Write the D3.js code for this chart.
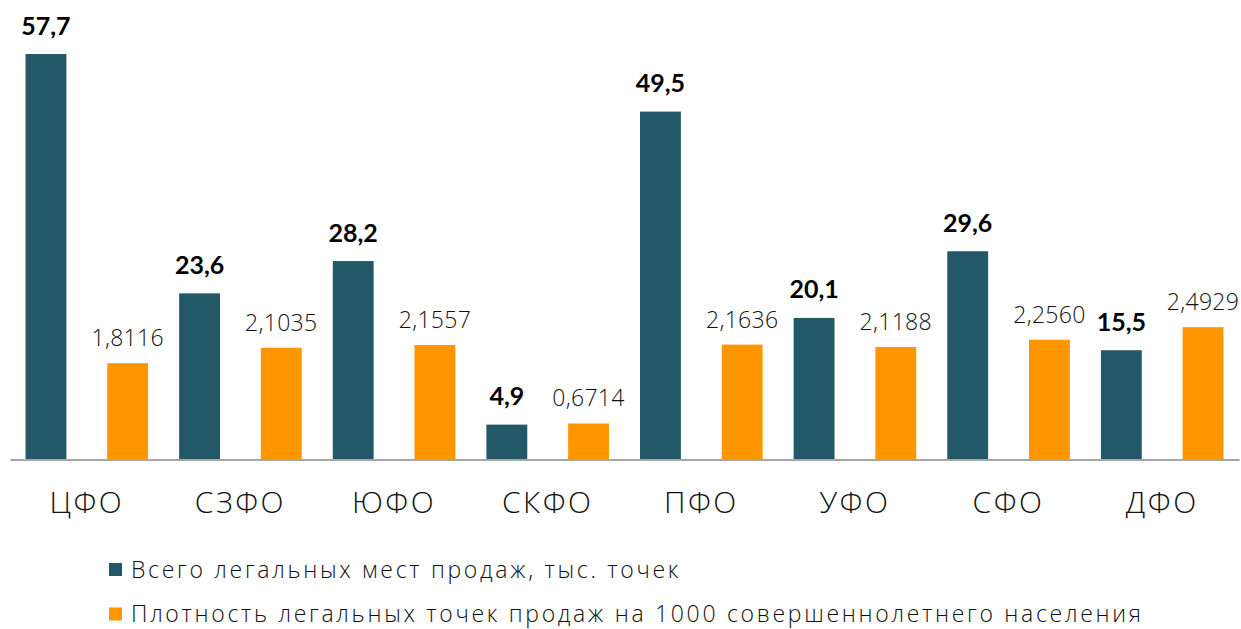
<!DOCTYPE html>
<html>
<head>
<meta charset="utf-8">
<script src="https://cdn.jsdelivr.net/npm/d3@7"></script>
<style>
	body { margin: 0; background: #fff; }
	svg { display: block; }
	.cat-label { font-family: "Open Sans", sans-serif; font-weight: 300; font-size: 30px; fill: #111; letter-spacing: 2.5px; }
	.total-label { font-family: Lato, sans-serif; font-weight: 700; font-size: 25px; fill: #000; }
	.density-label { font-family: "Open Sans", sans-serif; font-weight: 300; font-size: 23px; fill: #111; letter-spacing: 0.3px; }
	.legend-text { font-family: "Open Sans", sans-serif; font-weight: 300; font-size: 23px; fill: #111; letter-spacing: 2.7px; }
</style>
</head>
<body>
<div id="graphic"></div>
<script>
// chart data
const districts = ['ЦФО', 'СЗФО', 'ЮФО', 'СКФО', 'ПФО', 'УФО', 'СФО', 'ДФО'];
const totalPoints = [57.7, 23.6, 28.2, 4.9, 49.5, 20.1, 29.6, 15.5];
const densityPoints = [1.8116, 2.1035, 2.1557, 0.6714, 2.1636, 2.1188, 2.2560, 2.4929];
const totalLabels = ['57,7', '23,6', '28,2', '4,9', '49,5', '20,1', '29,6', '15,5'];
const densityLabels = ['1,8116', '2,1035', '2,1557', '0,6714', '2,1636', '2,1188', '2,2560', '2,4929'];
const seriesNames = [
	'Всего легальных мест продаж, тыс. точек',
	'Плотность легальных точек продаж на 1000 совершеннолетнего населения'
];

const colours = ['#225867', '#ff9600'];

const width = 1241;
const height = 629;
const margin = { left: 10, right: 2 };
const baseline = 459;

const graphic_data = districts.map((d, i) => ({
	district: d,
	total: totalPoints[i],
	density: densityPoints[i],
	totalLabel: totalLabels[i],
	densityLabel: densityLabels[i]
}));

const svg = d3.select('#graphic')
	.append('svg')
	.attr('width', width)
	.attr('height', height);

// scales
const x = d3.scaleBand()
	.domain(districts)
	.range([margin.left, width - margin.right]);

const xSub = d3.scaleBand()
	.domain(['total', 'density'])
	.range([0, x.bandwidth()])
	.paddingInner(0.5)
	.paddingOuter(0.19);

// two separate value axes (hidden), as in the original
const yTotal = d3.scaleLinear().domain([0, 65.4]).range([baseline, 0]);
const yDensity = d3.scaleLinear().domain([0, 8.68]).range([baseline, 0]);

const groups = svg.append('g')
	.selectAll('g')
	.data(graphic_data)
	.join('g')
	.attr('transform', d => 'translate(' + x(d.district) + ',0)');

// bars
groups.append('rect')
	.attr('x', xSub('total'))
	.attr('y', d => yTotal(d.total))
	.attr('width', xSub.bandwidth())
	.attr('height', d => baseline - yTotal(d.total))
	.attr('fill', colours[0]);

groups.append('rect')
	.attr('x', xSub('density'))
	.attr('y', d => yDensity(d.density))
	.attr('width', xSub.bandwidth())
	.attr('height', d => baseline - yDensity(d.density))
	.attr('fill', colours[1]);

// value labels
groups.append('text')
	.attr('class', 'total-label')
	.attr('x', xSub('total') + xSub.bandwidth() / 2)
	.attr('y', d => yTotal(d.total) - 19.5)
	.attr('text-anchor', 'middle')
	.text(d => d.totalLabel);

groups.append('text')
	.attr('class', 'density-label')
	.attr('x', xSub('density') + xSub.bandwidth() / 2)
	.attr('y', d => yDensity(d.density) - 17)
	.attr('text-anchor', 'middle')
	.text(d => d.densityLabel);

// x axis
const xAxis = svg.append('g')
	.attr('transform', 'translate(0,' + (baseline + 0.5) + ')')
	.call(d3.axisBottom(x).tickSize(0).tickPadding(0));

xAxis.select('.domain')
	.attr('stroke', '#a6a6a6')
	.attr('stroke-width', 2);

xAxis.selectAll('text')
	.attr('class', 'cat-label')
	.attr('y', 53.5)
	.attr('dy', null)
	.attr('font-size', null)
	.attr('font-family', null)
	.attr('fill', null);

// legend
const legend = svg.append('g')
	.attr('transform', 'translate(109,0)');

const legendItem = legend.selectAll('g')
	.data(seriesNames)
	.join('g')
	.attr('transform', (d, i) => 'translate(0,' + (563 + i * 44.5) + ')');

legendItem.append('rect')
	.attr('width', 13)
	.attr('height', 13)
	.attr('fill', (d, i) => colours[i]);

legendItem.append('text')
	.attr('class', 'legend-text')
	.attr('x', 22)
	.attr('y', 14.5)
	.text(d => d);
</script>
</body>
</html>
